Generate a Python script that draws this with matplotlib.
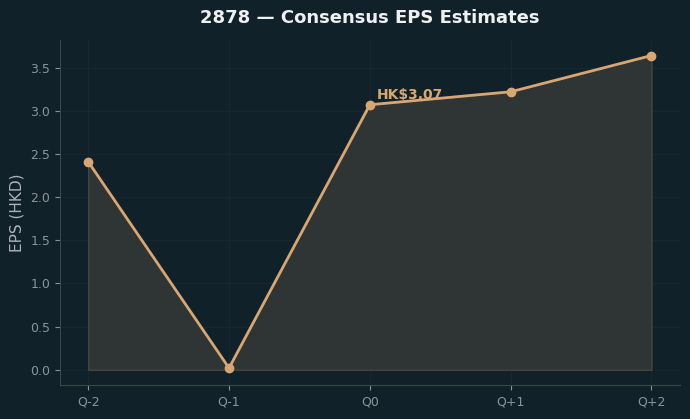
import numpy as np
import matplotlib
matplotlib.use('Agg')
import matplotlib.pyplot as plt

quarters = ['Q-2', 'Q-1', 'Q0', 'Q+1', 'Q+2']
eps = [2.41, 0.02, 3.07, 3.22, 3.64]
current_label = 'HK$3.07'

bg = '#11212a'
line_col = '#d7a673'

fig, ax = plt.subplots(figsize=(6.9, 4.19), dpi=100)
fig.patch.set_facecolor(bg)
ax.set_facecolor(bg)

x = np.arange(len(quarters))
ax.fill_between(x, eps, 0, color='#2f3434', edgecolor='#45463f', linewidth=1)
ax.plot(x, eps, color=line_col, linewidth=2, marker='o', markersize=6)

ax.annotate(current_label, (x[2], eps[2]), xytext=(5, 4), textcoords='offset points',
            color=line_col, fontsize=10, fontweight='bold')

ax.set_xticks(x)
ax.set_xticklabels(quarters)
ax.set_ylabel('EPS (HKD)', color='#aab3b8', fontsize=11)
ax.set_title('2878 — Consensus EPS Estimates', color='#f0f0f0', fontsize=13,
             fontweight='bold', pad=12)

ax.tick_params(colors='#8a959a', labelsize=9)
ax.grid(True, color='#18272d', linewidth=0.8)
ax.set_axisbelow(True)
for s in ['top', 'right']:
    ax.spines[s].set_visible(False)
for s in ['left', 'bottom']:
    ax.spines[s].set_color('#3b4649')

fig.subplots_adjust(left=0.087, right=0.985, top=0.905, bottom=0.08)
fig.savefig('out.png', facecolor=bg)
